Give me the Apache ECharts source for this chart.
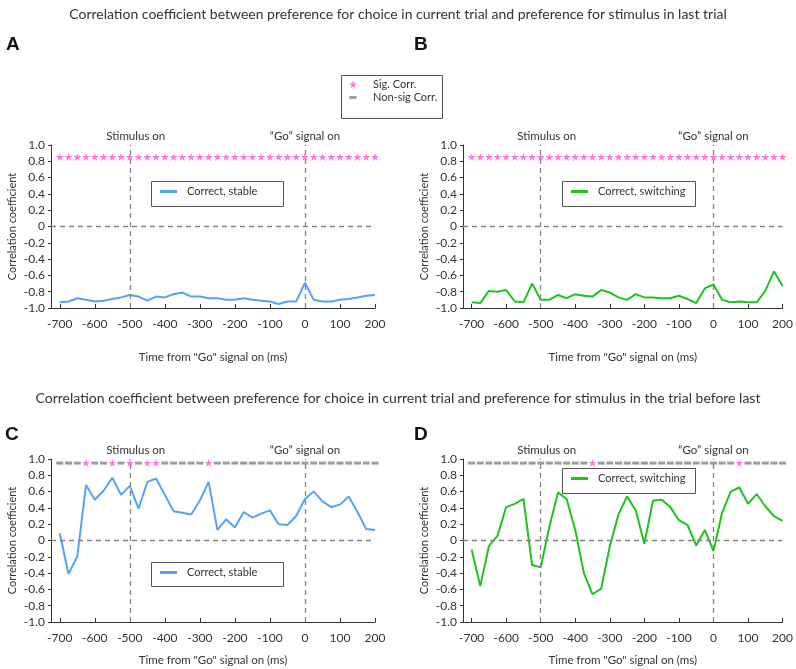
<!DOCTYPE html>
<html>
<head>
<meta charset="utf-8">
<script src="https://cdn.jsdelivr.net/npm/echarts@6/dist/echarts.min.js"></script>
<style>
  html,body{margin:0;padding:0;background:#fff;}
  #main{width:796px;height:669px;}
</style>
</head>
<body>
<div id="main"></div>
<script>
// time points (ms from "Go" signal on)
var times = [-700,-675,-650,-625,-600,-575,-550,-525,-500,-475,-450,-425,-400,-375,-350,-325,-300,-275,-250,-225,-200,-175,-150,-125,-100,-75,-50,-25,0,25,50,75,100,125,150,175,200];
var xTicks = [-700,-600,-500,-400,-300,-200,-100,0,100,200];

// last trial
var corrA = [-0.93,-0.92,-0.88,-0.90,-0.92,-0.91,-0.89,-0.87,-0.84,-0.86,-0.91,-0.86,-0.87,-0.83,-0.81,-0.86,-0.86,-0.88,-0.88,-0.90,-0.90,-0.88,-0.90,-0.91,-0.92,-0.95,-0.92,-0.92,-0.69,-0.90,-0.92,-0.92,-0.90,-0.89,-0.87,-0.85,-0.84];
var corrB = [-0.93,-0.94,-0.79,-0.80,-0.78,-0.92,-0.93,-0.70,-0.90,-0.90,-0.84,-0.88,-0.83,-0.85,-0.86,-0.78,-0.81,-0.87,-0.90,-0.83,-0.87,-0.87,-0.88,-0.88,-0.85,-0.89,-0.94,-0.76,-0.71,-0.90,-0.93,-0.92,-0.93,-0.93,-0.79,-0.55,-0.73];
// trial before last
var corrC = [0.09,-0.41,-0.20,0.68,0.50,0.61,0.77,0.56,0.67,0.39,0.72,0.76,0.56,0.36,0.34,0.32,0.49,0.72,0.13,0.26,0.16,0.35,0.28,0.33,0.37,0.20,0.19,0.30,0.51,0.60,0.48,0.41,0.44,0.54,0.35,0.14,0.13];
var corrD = [-0.11,-0.56,-0.07,0.06,0.41,0.45,0.51,-0.30,-0.33,0.17,0.59,0.51,0.13,-0.40,-0.66,-0.59,-0.07,0.32,0.54,0.37,-0.04,0.49,0.50,0.41,0.25,0.19,-0.06,0.13,-0.13,0.34,0.60,0.65,0.45,0.57,0.42,0.30,0.24];

// significant time points
var sigA = times.slice();
var sigB = times.slice();
var sigC = [-625,-550,-500,-450,-425,-275];
var sigD = [-350,75];

var FONT = 'Lato';
var BLUE = '#55a2f7', GREEN = '#1ec31e', PINK = '#ff55d6', GREY = '#858585';

// 5-point star drawn inside a box of w x h, centred at (cx, cy)
function starPath(w, h, cx, cy, r){
  var d = 'M0,0M' + w + ',' + h;
  for (var k = 0; k < 10; k++) {
    var a = -Math.PI / 2 + k * Math.PI / 5;
    var rr = k % 2 ? r * 0.382 : r;
    d += (k ? 'L' : 'M') + (cx + rr * Math.cos(a)).toFixed(2) + ',' + (cy + rr * Math.sin(a)).toFixed(2);
  }
  return 'path://' + d + 'Z';
}
function barPath(w, h, x, y, bw, bh){
  return 'path://M0,0M' + w + ',' + h + 'M' + x + ',' + y + 'h' + bw + 'v' + bh + 'h-' + bw + 'z';
}
var STAR = starPath(200, 200, 100, 105, 100);
var STAR_LEG = starPath(30, 8, 15, 4.3, 4.3);
var DASH_LEG = barPath(30, 8, 11.5, 2.5, 7, 3);
var LINE_LEG = barPath(22, 3, 0, 0, 17, 3);

var grids = [
  {left:51, top:145, width:324, height:163},
  {left:463, top:145, width:323, height:163},
  {left:51, top:459, width:324, height:163},
  {left:463, top:459, width:323, height:163}
];
var xNameGap = [43, 43, 32, 32];

function pairs(v){ return times.map(function(t,i){ return [t, v[i]]; }); }

var xAxes = [], yAxes = [], series = [];
var panels = [
  {data:corrA, sig:sigA, name:'Correct, stable', color:BLUE, row:0.85, showNon:false},
  {data:corrB, sig:sigB, name:'Correct, switching', color:GREEN, row:0.85, showNon:false},
  {data:corrC, sig:sigC, name:'Correct, stable', color:BLUE, row:0.95, showNon:true},
  {data:corrD, sig:sigD, name:'Correct, switching', color:GREEN, row:0.95, showNon:true}
];

panels.forEach(function(p, i){
  xAxes.push({
    gridIndex:i, type:'value', min:-725, max:200,
    name:'Time from "Go" signal on (ms)', nameLocation:'middle', nameGap:xNameGap[i],
    nameTextStyle:{fontFamily:FONT, fontSize:11.5, color:'#333'},
    splitLine:{show:false},
    axisLine:{onZero:false, lineStyle:{color:'#333', width:1}},
    axisTick:{inside:true, length:4, customValues:xTicks, lineStyle:{color:'#333'}},
    axisLabel:{customValues:xTicks, fontFamily:FONT, fontSize:12, color:'#333', margin:10}
  });
  yAxes.push({
    gridIndex:i, type:'value', min:-1, max:1, interval:0.2,
    name:'Correlation coefficient', nameLocation:'middle', nameGap:33,
    nameTextStyle:{fontFamily:FONT, fontSize:11, color:'#333'},
    splitLine:{show:false},
    axisLine:{show:true, onZero:false, lineStyle:{color:'#333', width:1}},
    axisTick:{show:true, length:3, lineStyle:{color:'#333'}},
    axisLabel:{fontFamily:FONT, fontSize:12, color:'#333', margin:6,
      formatter:function(v){ return Math.abs(v) < 1e-9 ? '0' : v.toFixed(1); }}
  });
  var dashStyle = {type:[5,4], color:GREY, width:1.3};
  series.push({
    name:p.name, type:'line', xAxisIndex:i, yAxisIndex:i,
    data:pairs(p.data), showSymbol:false, symbol:'none',
    lineStyle:{color:p.color, width:2}, itemStyle:{color:p.color}, z:3,
    markLine:{
      silent:true, symbol:'none', animation:false,
      lineStyle:dashStyle,
      label:{show:true, position:'end', distance:3, fontFamily:FONT, fontSize:11.5, color:'#333'},
      data:[
        {xAxis:-500, label:{formatter:'Stimulus on', offset:[6,0]}},
        {xAxis:0, label:{formatter:'\u201cGo\u201d signal on'}},
        {yAxis:0, label:{show:false}}
      ]
    }
  });
  if (p.showNon) {
    series.push({
      name:'Non-sig Corr.', type:'scatter', xAxisIndex:i, yAxisIndex:i,
      data:times.filter(function(t){ return p.sig.indexOf(t) < 0; }).map(function(t){ return [t, p.row]; }),
      symbol:'rect', symbolSize:[7,3], itemStyle:{color:GREY}, z:4, silent:true
    });
  }
  series.push({
    name:'Sig. Corr.', type:'scatter', xAxisIndex:i, yAxisIndex:i,
    data:p.sig.map(function(t){ return [t, p.row]; }),
    symbol:STAR, symbolKeepAspect:true, symbolSize:8.5, itemStyle:{color:PINK}, z:5, silent:true
  });
});

var legendText = {fontFamily:FONT, fontSize:11, color:'#333'};
function panelLegend(name, left, top){
  return {
    data:[{name:name, icon:LINE_LEG}], left:left, top:top, padding:0,
    itemWidth:22, itemHeight:3, itemGap:0, selectedMode:false,
    textStyle:legendText
  };
}

function box(x, y, w, h){
  return {type:'rect', shape:{x:x, y:y, width:w, height:h}, style:{fill:null, stroke:'#555', lineWidth:1}, silent:true, z:0};
}
function letter(t, x, y){
  return {type:'text', left:x, top:y, style:{text:t, font:'bold 19px "Liberation Sans", Arial', fill:'#111'}};
}

var option = {
  animation:false,
  title:[
    {text:'Correlation coefficient between preference for choice in current trial and preference for stimulus in last trial',
     left:'center', top:2, textStyle:{fontFamily:FONT, fontSize:14, fontWeight:'normal', color:'#333'}},
    {text:'Correlation coefficient between preference for choice in current trial and preference for stimulus in the trial before last',
     left:'center', top:386, textStyle:{fontFamily:FONT, fontSize:14, fontWeight:'normal', color:'#333'}}
  ],
  grid:grids,
  xAxis:xAxes,
  yAxis:yAxes,
  legend:[
    {data:[{name:'Sig. Corr.', icon:STAR_LEG}, {name:'Non-sig Corr.', icon:DASH_LEG}],
     orient:'vertical', left:338, top:79, padding:0, itemGap:2, itemWidth:30, itemHeight:8, selectedMode:false,
     textStyle:legendText},
    panelLegend('Correct, stable', 160, 186),
    panelLegend('Correct, switching', 571, 186),
    panelLegend('Correct, stable', 160, 567),
    panelLegend('Correct, switching', 571, 473)
  ],
  graphic:[
    box(341.5, 75.5, 101, 43),
    box(151.5, 181.5, 132, 25),
    box(562.5, 181.5, 133, 25),
    box(151.5, 562.5, 132, 24),
    box(562.5, 468.5, 133, 25),
    letter('A', 6, 35),
    letter('B', 414, 35),
    letter('C', 5, 425),
    letter('D', 414, 425)
  ],
  series:series
};

var chart = echarts.init(document.getElementById('main'));
chart.setOption(option);
</script>
</body>
</html>
